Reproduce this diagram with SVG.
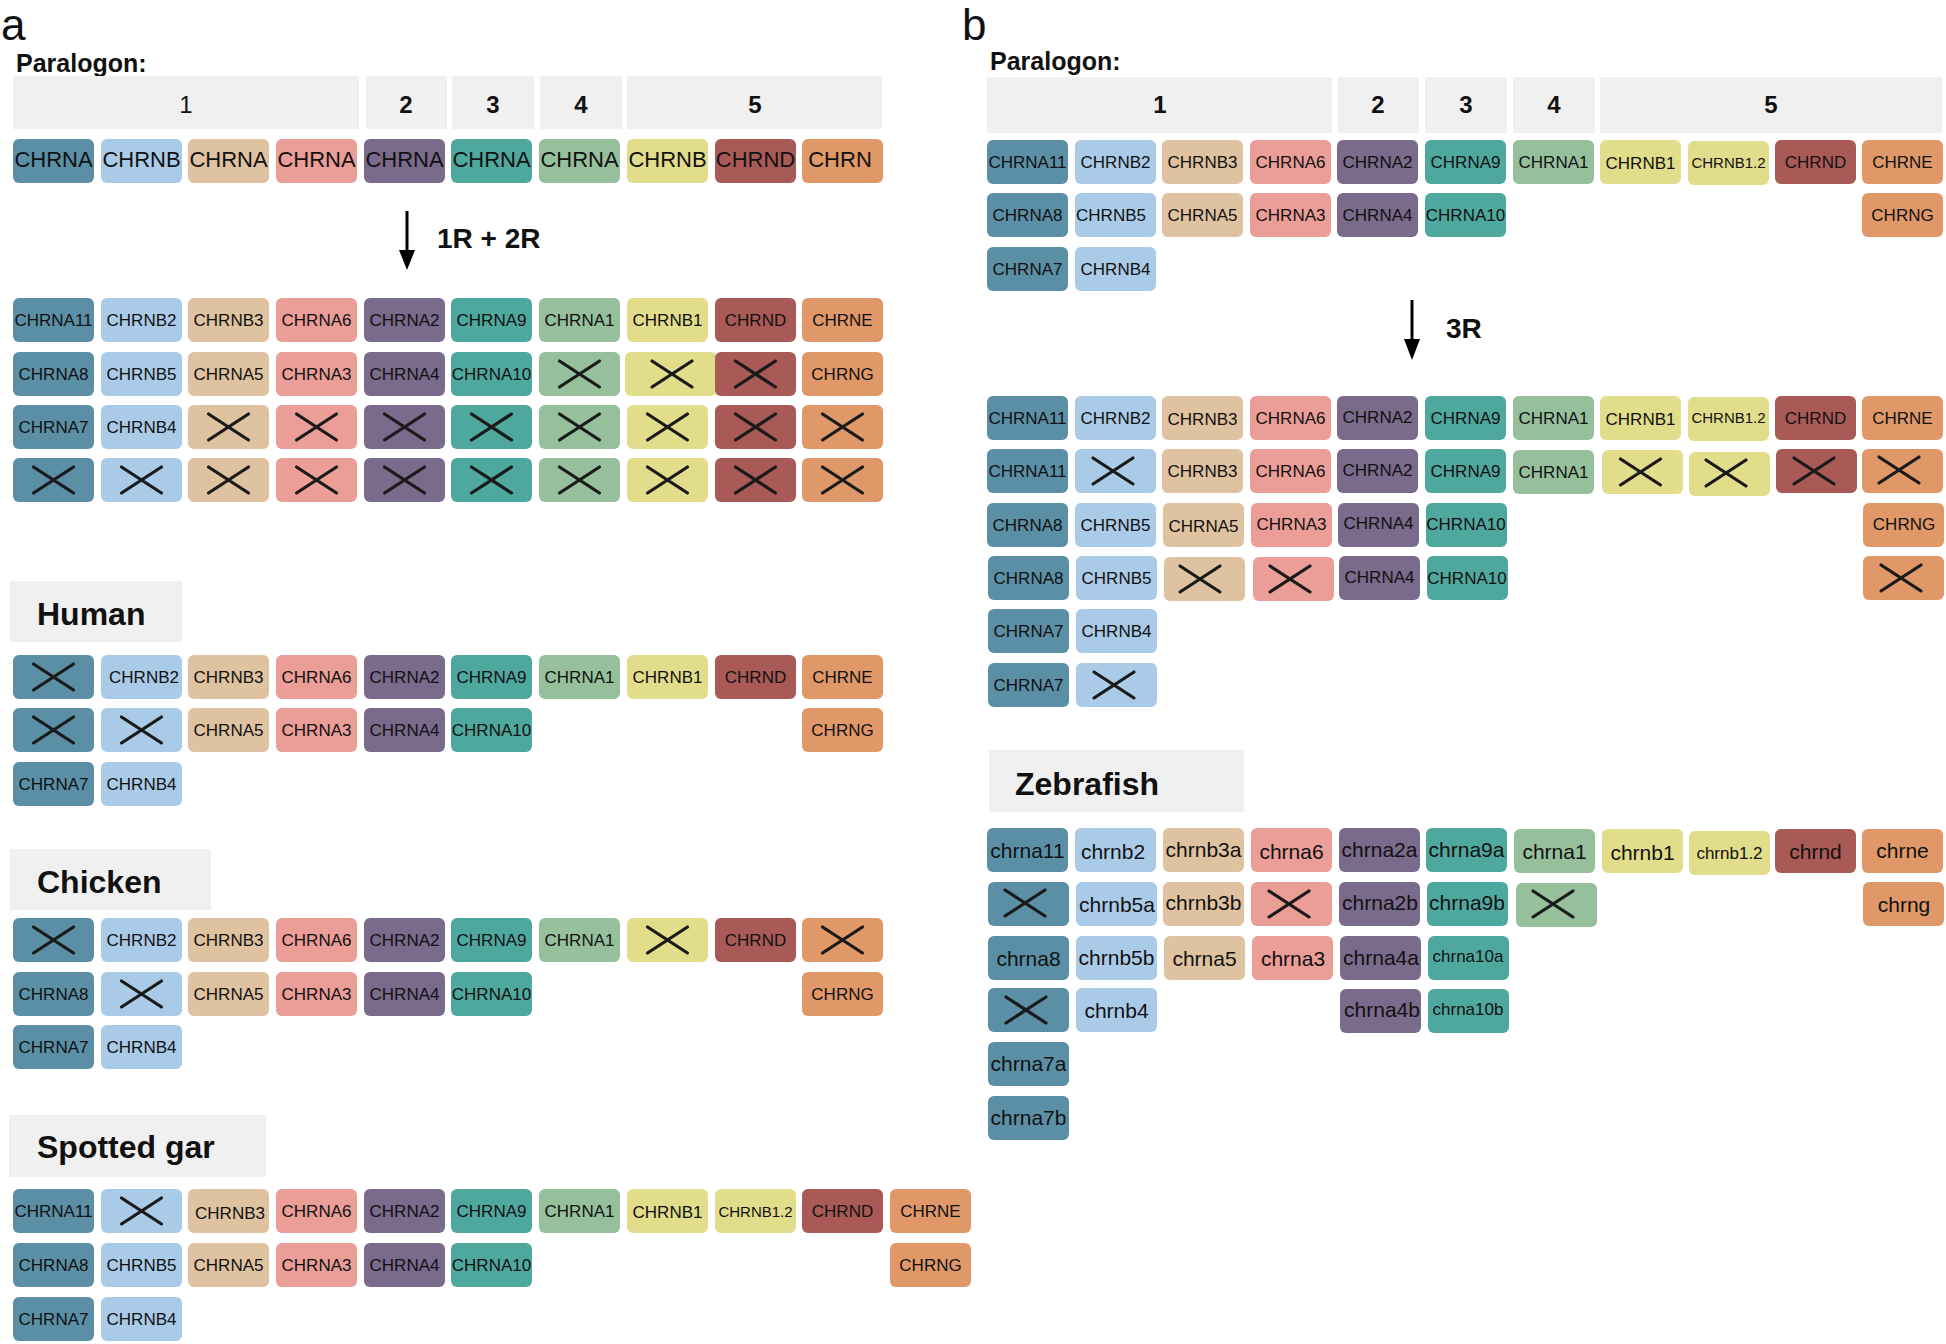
<svg xmlns="http://www.w3.org/2000/svg" xmlns:xlink="http://www.w3.org/1999/xlink" width="1946" height="1344" viewBox="0 0 1946 1344">
<style>
.c1{fill:#5a8fa6}.c2{fill:#aacbe8}.c3{fill:#dfc29f}.c4{fill:#eb9d97}.c5{fill:#7a6a8b}.c6{fill:#4fa89e}.c7{fill:#96c09c}.c8{fill:#e2dd8a}.c9{fill:#a95a56}.c10{fill:#e09869}
.hb{fill:#f0f0f0}
text{font-family:"Liberation Sans",Arial,Helvetica,sans-serif;fill:#111}
.L{font-size:17px;text-anchor:middle}
.S{font-size:15px;text-anchor:middle}
.T{font-size:22px;text-anchor:middle}
.Z{font-size:21px;text-anchor:middle}
.ZS{font-size:17px;text-anchor:middle}
.H{font-size:24px;text-anchor:middle}
.HB{font-size:24px;font-weight:bold;text-anchor:middle}
.P{font-size:25px;font-weight:bold}
.SP{font-size:32px;font-weight:bold}
.R{font-size:28px;font-weight:bold}
.PL{font-size:44px}
.x{fill:none;stroke:#1a1a1a;stroke-width:3.2;stroke-linecap:round}
.ar{stroke:#000;stroke-width:3;fill:none}
</style>
<defs>
<path id="X" class="x" d="M-20,-13 L20,13 M-20,13 L20,-13"/>
</defs>
<rect width="1946" height="1344" fill="#fff"/>

<!-- Panel a labels -->
<text class="PL" x="1" y="40">a</text>
<text class="P" x="16" y="72">Paralogon:</text>
<g id="a-headers">
<rect class="hb" x="13" y="76" width="346" height="53"/><text class="H" x="186" y="113">1</text>
<rect class="hb" x="366" y="76" width="81" height="53"/><text class="HB" x="406" y="113">2</text>
<rect class="hb" x="452" y="76" width="82" height="53"/><text class="HB" x="493" y="113">3</text>
<rect class="hb" x="540" y="76" width="82" height="53"/><text class="HB" x="581" y="113">4</text>
<rect class="hb" x="627" y="76" width="255" height="53"/><text class="HB" x="755" y="113">5</text>
</g>

<!-- ancestral row -->
<g id="a0c1"><rect class="c1" x="13" y="139" width="81" height="44" rx="6"/><text class="T" x="53.5" y="167">CHRNA</text></g>
<g id="a0c2"><rect class="c2" x="101" y="139" width="81" height="44" rx="6"/><text class="T" x="141.5" y="167">CHRNB</text></g>
<g id="a0c3"><rect class="c3" x="188" y="139" width="81" height="44" rx="6"/><text class="T" x="228.5" y="167">CHRNA</text></g>
<g id="a0c4"><rect class="c4" x="276" y="139" width="81" height="44" rx="6"/><text class="T" x="316.5" y="167">CHRNA</text></g>
<g id="a0c5"><rect class="c5" x="364" y="139" width="81" height="44" rx="6"/><text class="T" x="404.5" y="167">CHRNA</text></g>
<g id="a0c6"><rect class="c6" x="451" y="139" width="81" height="44" rx="6"/><text class="T" x="491.5" y="167">CHRNA</text></g>
<g id="a0c7"><rect class="c7" x="539" y="139" width="81" height="44" rx="6"/><text class="T" x="579.5" y="167">CHRNA</text></g>
<g id="a0c8"><rect class="c8" x="627" y="139" width="81" height="44" rx="6"/><text class="T" x="667.5" y="167">CHRNB</text></g>
<g id="a0c9"><rect class="c9" x="715" y="139" width="81" height="44" rx="6"/><text class="T" x="755.5" y="167">CHRND</text></g>
<g id="a0c10"><rect class="c10" x="802" y="139" width="81" height="44" rx="6"/><text class="T" x="840" y="167">CHRN</text></g>

<g id="connectors">
<line class="ar" x1="407" y1="211" x2="407" y2="254"/>
<polygon points="399,250 415,250 407,270" fill="#000"/>
<line class="ar" x1="1412" y1="300" x2="1412" y2="343"/>
<polygon points="1404,339 1420,339 1412,360" fill="#000"/>
</g>
<text class="R" x="437" y="248">1R + 2R</text>
<text class="R" x="1446" y="338">3R</text>

<!-- 1R+2R rows -->
<g id="a1c1"><rect class="c1" x="13" y="298" width="81" height="44" rx="6"/><text class="L" x="53.5" y="326">CHRNA11</text></g>
<g id="a1c2"><rect class="c2" x="101" y="298" width="81" height="44" rx="6"/><text class="L" x="141.5" y="326">CHRNB2</text></g>
<g id="a1c3"><rect class="c3" x="188" y="298" width="81" height="44" rx="6"/><text class="L" x="228.5" y="326">CHRNB3</text></g>
<g id="a1c4"><rect class="c4" x="276" y="298" width="81" height="44" rx="6"/><text class="L" x="316.5" y="326">CHRNA6</text></g>
<g id="a1c5"><rect class="c5" x="364" y="298" width="81" height="44" rx="6"/><text class="L" x="404.5" y="326">CHRNA2</text></g>
<g id="a1c6"><rect class="c6" x="451" y="298" width="81" height="44" rx="6"/><text class="L" x="491.5" y="326">CHRNA9</text></g>
<g id="a1c7"><rect class="c7" x="539" y="298" width="81" height="44" rx="6"/><text class="L" x="579.5" y="326">CHRNA1</text></g>
<g id="a1c8"><rect class="c8" x="627" y="298" width="81" height="44" rx="6"/><text class="L" x="667.5" y="326">CHRNB1</text></g>
<g id="a1c9"><rect class="c9" x="715" y="298" width="81" height="44" rx="6"/><text class="L" x="755.5" y="326">CHRND</text></g>
<g id="a1c10"><rect class="c10" x="802" y="298" width="81" height="44" rx="6"/><text class="L" x="842.5" y="326">CHRNE</text></g>

<g id="a2c1"><rect class="c1" x="13" y="352" width="81" height="44" rx="6"/><text class="L" x="53.5" y="380">CHRNA8</text></g>
<g id="a2c2"><rect class="c2" x="101" y="352" width="81" height="44" rx="6"/><text class="L" x="141.5" y="380">CHRNB5</text></g>
<g id="a2c3"><rect class="c3" x="188" y="352" width="81" height="44" rx="6"/><text class="L" x="228.5" y="380">CHRNA5</text></g>
<g id="a2c4"><rect class="c4" x="276" y="352" width="81" height="44" rx="6"/><text class="L" x="316.5" y="380">CHRNA3</text></g>
<g id="a2c5"><rect class="c5" x="364" y="352" width="81" height="44" rx="6"/><text class="L" x="404.5" y="380">CHRNA4</text></g>
<g id="a2c6"><rect class="c6" x="451" y="352" width="81" height="44" rx="6"/><text class="L" x="491.5" y="380">CHRNA10</text></g>
<g id="a2c7"><rect class="c7" x="539" y="352" width="81" height="44" rx="6"/><use href="#X" x="579.5" y="374"/></g>
<g id="a2c8"><rect class="c8" x="625" y="352" width="92" height="44" rx="6"/><use href="#X" x="672" y="374"/></g>
<g id="a2c9"><rect class="c9" x="715" y="352" width="81" height="44" rx="6"/><use href="#X" x="755.5" y="374"/></g>
<g id="a2c10"><rect class="c10" x="802" y="352" width="81" height="44" rx="6"/><text class="L" x="842.5" y="380">CHRNG</text></g>

<g id="a3c1"><rect class="c1" x="13" y="405" width="81" height="44" rx="6"/><text class="L" x="53.5" y="433">CHRNA7</text></g>
<g id="a3c2"><rect class="c2" x="101" y="405" width="81" height="44" rx="6"/><text class="L" x="141.5" y="433">CHRNB4</text></g>
<g id="a3c3"><rect class="c3" x="188" y="405" width="81" height="44" rx="6"/><use href="#X" x="228.5" y="427"/></g>
<g id="a3c4"><rect class="c4" x="276" y="405" width="81" height="44" rx="6"/><use href="#X" x="316.5" y="427"/></g>
<g id="a3c5"><rect class="c5" x="364" y="405" width="81" height="44" rx="6"/><use href="#X" x="404.5" y="427"/></g>
<g id="a3c6"><rect class="c6" x="451" y="405" width="81" height="44" rx="6"/><use href="#X" x="491.5" y="427"/></g>
<g id="a3c7"><rect class="c7" x="539" y="405" width="81" height="44" rx="6"/><use href="#X" x="579.5" y="427"/></g>
<g id="a3c8"><rect class="c8" x="627" y="405" width="81" height="44" rx="6"/><use href="#X" x="667.5" y="427"/></g>
<g id="a3c9"><rect class="c9" x="715" y="405" width="81" height="44" rx="6"/><use href="#X" x="755.5" y="427"/></g>
<g id="a3c10"><rect class="c10" x="802" y="405" width="81" height="44" rx="6"/><use href="#X" x="842.5" y="427"/></g>

<g id="a4c1"><rect class="c1" x="13" y="458" width="81" height="44" rx="6"/><use href="#X" x="53.5" y="480"/></g>
<g id="a4c2"><rect class="c2" x="101" y="458" width="81" height="44" rx="6"/><use href="#X" x="141.5" y="480"/></g>
<g id="a4c3"><rect class="c3" x="188" y="458" width="81" height="44" rx="6"/><use href="#X" x="228.5" y="480"/></g>
<g id="a4c4"><rect class="c4" x="276" y="458" width="81" height="44" rx="6"/><use href="#X" x="316.5" y="480"/></g>
<g id="a4c5"><rect class="c5" x="364" y="458" width="81" height="44" rx="6"/><use href="#X" x="404.5" y="480"/></g>
<g id="a4c6"><rect class="c6" x="451" y="458" width="81" height="44" rx="6"/><use href="#X" x="491.5" y="480"/></g>
<g id="a4c7"><rect class="c7" x="539" y="458" width="81" height="44" rx="6"/><use href="#X" x="579.5" y="480"/></g>
<g id="a4c8"><rect class="c8" x="627" y="458" width="81" height="44" rx="6"/><use href="#X" x="667.5" y="480"/></g>
<g id="a4c9"><rect class="c9" x="715" y="458" width="81" height="44" rx="6"/><use href="#X" x="755.5" y="480"/></g>
<g id="a4c10"><rect class="c10" x="802" y="458" width="81" height="44" rx="6"/><use href="#X" x="842.5" y="480"/></g>

<!-- Human -->
<g id="human-header"><rect class="hb" x="10" y="581" width="172" height="61"/><text class="SP" x="37" y="625">Human</text></g>
<g id="h1c1"><rect class="c1" x="13" y="655" width="81" height="44" rx="6"/><use href="#X" x="53.5" y="677"/></g>
<g id="h1c2"><rect class="c2" x="101" y="655" width="81" height="44" rx="6"/><text class="L" x="144" y="683">CHRNB2</text></g>
<g id="h1c3"><rect class="c3" x="188" y="655" width="81" height="44" rx="6"/><text class="L" x="228.5" y="683">CHRNB3</text></g>
<g id="h1c4"><rect class="c4" x="276" y="655" width="81" height="44" rx="6"/><text class="L" x="316.5" y="683">CHRNA6</text></g>
<g id="h1c5"><rect class="c5" x="364" y="655" width="81" height="44" rx="6"/><text class="L" x="404.5" y="683">CHRNA2</text></g>
<g id="h1c6"><rect class="c6" x="451" y="655" width="81" height="44" rx="6"/><text class="L" x="491.5" y="683">CHRNA9</text></g>
<g id="h1c7"><rect class="c7" x="539" y="655" width="81" height="44" rx="6"/><text class="L" x="579.5" y="683">CHRNA1</text></g>
<g id="h1c8"><rect class="c8" x="627" y="655" width="81" height="44" rx="6"/><text class="L" x="667.5" y="683">CHRNB1</text></g>
<g id="h1c9"><rect class="c9" x="715" y="655" width="81" height="44" rx="6"/><text class="L" x="755.5" y="683">CHRND</text></g>
<g id="h1c10"><rect class="c10" x="802" y="655" width="81" height="44" rx="6"/><text class="L" x="842.5" y="683">CHRNE</text></g>
<g id="h2c1"><rect class="c1" x="13" y="708" width="81" height="44" rx="6"/><use href="#X" x="53.5" y="730"/></g>
<g id="h2c2"><rect class="c2" x="101" y="708" width="81" height="44" rx="6"/><use href="#X" x="141.5" y="730"/></g>
<g id="h2c3"><rect class="c3" x="188" y="708" width="81" height="44" rx="6"/><text class="L" x="228.5" y="736">CHRNA5</text></g>
<g id="h2c4"><rect class="c4" x="276" y="708" width="81" height="44" rx="6"/><text class="L" x="316.5" y="736">CHRNA3</text></g>
<g id="h2c5"><rect class="c5" x="364" y="708" width="81" height="44" rx="6"/><text class="L" x="404.5" y="736">CHRNA4</text></g>
<g id="h2c6"><rect class="c6" x="451" y="708" width="81" height="44" rx="6"/><text class="L" x="491.5" y="736">CHRNA10</text></g>
<g id="h2c10"><rect class="c10" x="802" y="708" width="81" height="44" rx="6"/><text class="L" x="842.5" y="736">CHRNG</text></g>
<g id="h3c1"><rect class="c1" x="13" y="762" width="81" height="44" rx="6"/><text class="L" x="53.5" y="790">CHRNA7</text></g>
<g id="h3c2"><rect class="c2" x="101" y="762" width="81" height="44" rx="6"/><text class="L" x="141.5" y="790">CHRNB4</text></g>

<!-- Chicken -->
<g id="chicken-header"><rect class="hb" x="10" y="849" width="201" height="61"/><text class="SP" x="37" y="893">Chicken</text></g>
<g id="k1c1"><rect class="c1" x="13" y="918" width="81" height="44" rx="6"/><use href="#X" x="53.5" y="940"/></g>
<g id="k1c2"><rect class="c2" x="101" y="918" width="81" height="44" rx="6"/><text class="L" x="141.5" y="946">CHRNB2</text></g>
<g id="k1c3"><rect class="c3" x="188" y="918" width="81" height="44" rx="6"/><text class="L" x="228.5" y="946">CHRNB3</text></g>
<g id="k1c4"><rect class="c4" x="276" y="918" width="81" height="44" rx="6"/><text class="L" x="316.5" y="946">CHRNA6</text></g>
<g id="k1c5"><rect class="c5" x="364" y="918" width="81" height="44" rx="6"/><text class="L" x="404.5" y="946">CHRNA2</text></g>
<g id="k1c6"><rect class="c6" x="451" y="918" width="81" height="44" rx="6"/><text class="L" x="491.5" y="946">CHRNA9</text></g>
<g id="k1c7"><rect class="c7" x="539" y="918" width="81" height="44" rx="6"/><text class="L" x="579.5" y="946">CHRNA1</text></g>
<g id="k1c8"><rect class="c8" x="627" y="918" width="81" height="44" rx="6"/><use href="#X" x="667.5" y="940"/></g>
<g id="k1c9"><rect class="c9" x="715" y="918" width="81" height="44" rx="6"/><text class="L" x="755.5" y="946">CHRND</text></g>
<g id="k1c10"><rect class="c10" x="802" y="918" width="81" height="44" rx="6"/><use href="#X" x="842.5" y="940"/></g>
<g id="k2c1"><rect class="c1" x="13" y="972" width="81" height="44" rx="6"/><text class="L" x="53.5" y="1000">CHRNA8</text></g>
<g id="k2c2"><rect class="c2" x="101" y="972" width="81" height="44" rx="6"/><use href="#X" x="141.5" y="994"/></g>
<g id="k2c3"><rect class="c3" x="188" y="972" width="81" height="44" rx="6"/><text class="L" x="228.5" y="1000">CHRNA5</text></g>
<g id="k2c4"><rect class="c4" x="276" y="972" width="81" height="44" rx="6"/><text class="L" x="316.5" y="1000">CHRNA3</text></g>
<g id="k2c5"><rect class="c5" x="364" y="972" width="81" height="44" rx="6"/><text class="L" x="404.5" y="1000">CHRNA4</text></g>
<g id="k2c6"><rect class="c6" x="451" y="972" width="81" height="44" rx="6"/><text class="L" x="491.5" y="1000">CHRNA10</text></g>
<g id="k2c10"><rect class="c10" x="802" y="972" width="81" height="44" rx="6"/><text class="L" x="842.5" y="1000">CHRNG</text></g>
<g id="k3c1"><rect class="c1" x="13" y="1025" width="81" height="44" rx="6"/><text class="L" x="53.5" y="1053">CHRNA7</text></g>
<g id="k3c2"><rect class="c2" x="101" y="1025" width="81" height="44" rx="6"/><text class="L" x="141.5" y="1053">CHRNB4</text></g>

<!-- Spotted gar -->
<g id="gar-header"><rect class="hb" x="9" y="1115" width="257" height="62"/><text class="SP" x="37" y="1158">Spotted gar</text></g>
<g id="g1c1"><rect class="c1" x="13" y="1189" width="81" height="44" rx="6"/><text class="L" x="53.5" y="1217">CHRNA11</text></g>
<g id="g1c2"><rect class="c2" x="101" y="1189" width="81" height="44" rx="6"/><use href="#X" x="141.5" y="1211"/></g>
<g id="g1c3"><rect class="c3" x="188" y="1189" width="81" height="44" rx="6"/><text class="L" x="230" y="1219">CHRNB3</text></g>
<g id="g1c4"><rect class="c4" x="276" y="1189" width="81" height="44" rx="6"/><text class="L" x="316.5" y="1217">CHRNA6</text></g>
<g id="g1c5"><rect class="c5" x="364" y="1189" width="81" height="44" rx="6"/><text class="L" x="404.5" y="1217">CHRNA2</text></g>
<g id="g1c6"><rect class="c6" x="451" y="1189" width="81" height="44" rx="6"/><text class="L" x="491.5" y="1217">CHRNA9</text></g>
<g id="g1c7"><rect class="c7" x="539" y="1189" width="81" height="44" rx="6"/><text class="L" x="579.5" y="1217">CHRNA1</text></g>
<g id="g1c8"><rect class="c8" x="627" y="1189" width="81" height="44" rx="6"/><text class="L" x="667.5" y="1218">CHRNB1</text></g>
<g id="g1c9"><rect class="c8" x="715" y="1189" width="81" height="44" rx="6"/><text class="S" x="755.5" y="1217">CHRNB1.2</text></g>
<g id="g1c10"><rect class="c9" x="802" y="1189" width="81" height="44" rx="6"/><text class="L" x="842.5" y="1217">CHRND</text></g>
<g id="g1c11"><rect class="c10" x="890" y="1189" width="81" height="44" rx="6"/><text class="L" x="930.5" y="1217">CHRNE</text></g>
<g id="g2c1"><rect class="c1" x="13" y="1243" width="81" height="44" rx="6"/><text class="L" x="53.5" y="1271">CHRNA8</text></g>
<g id="g2c2"><rect class="c2" x="101" y="1243" width="81" height="44" rx="6"/><text class="L" x="141.5" y="1271">CHRNB5</text></g>
<g id="g2c3"><rect class="c3" x="188" y="1243" width="81" height="44" rx="6"/><text class="L" x="228.5" y="1271">CHRNA5</text></g>
<g id="g2c4"><rect class="c4" x="276" y="1243" width="81" height="44" rx="6"/><text class="L" x="316.5" y="1271">CHRNA3</text></g>
<g id="g2c5"><rect class="c5" x="364" y="1243" width="81" height="44" rx="6"/><text class="L" x="404.5" y="1271">CHRNA4</text></g>
<g id="g2c6"><rect class="c6" x="451" y="1243" width="81" height="44" rx="6"/><text class="L" x="491.5" y="1271">CHRNA10</text></g>
<g id="g2c11"><rect class="c10" x="890" y="1243" width="81" height="44" rx="6"/><text class="L" x="930.5" y="1271">CHRNG</text></g>
<g id="g3c1"><rect class="c1" x="13" y="1297" width="81" height="44" rx="6"/><text class="L" x="53.5" y="1325">CHRNA7</text></g>
<g id="g3c2"><rect class="c2" x="101" y="1297" width="81" height="44" rx="6"/><text class="L" x="141.5" y="1325">CHRNB4</text></g>

<!-- Panel b -->
<text class="PL" x="962" y="40">b</text>
<text class="P" x="990" y="70">Paralogon:</text>
<g id="b-headers">
<rect class="hb" x="987" y="77" width="345" height="56"/><text class="HB" x="1160" y="113">1</text>
<rect class="hb" x="1338" y="77" width="81" height="56"/><text class="HB" x="1378" y="113">2</text>
<rect class="hb" x="1425" y="77" width="82" height="56"/><text class="HB" x="1466" y="113">3</text>
<rect class="hb" x="1513" y="77" width="82" height="56"/><text class="HB" x="1554" y="113">4</text>
<rect class="hb" x="1600" y="77" width="342" height="56"/><text class="HB" x="1771" y="113">5</text>
</g>

<g id="b0r1c1"><rect class="c1" x="987" y="140" width="81" height="44" rx="6"/><text class="L" x="1027.5" y="168">CHRNA11</text></g>
<g id="b0r1c2"><rect class="c2" x="1075" y="140" width="81" height="44" rx="6"/><text class="L" x="1115.5" y="168">CHRNB2</text></g>
<g id="b0r1c3"><rect class="c3" x="1162" y="140" width="81" height="44" rx="6"/><text class="L" x="1202.5" y="168">CHRNB3</text></g>
<g id="b0r1c4"><rect class="c4" x="1250" y="140" width="81" height="44" rx="6"/><text class="L" x="1290.5" y="168">CHRNA6</text></g>
<g id="b0r1c5"><rect class="c5" x="1337" y="140" width="81" height="44" rx="6"/><text class="L" x="1377.5" y="168">CHRNA2</text></g>
<g id="b0r1c6"><rect class="c6" x="1425" y="140" width="81" height="44" rx="6"/><text class="L" x="1465.5" y="168">CHRNA9</text></g>
<g id="b0r1c7"><rect class="c7" x="1513" y="140" width="81" height="44" rx="6"/><text class="L" x="1553.5" y="168">CHRNA1</text></g>
<g id="b0r1c8"><rect class="c8" x="1600" y="140" width="81" height="44" rx="6"/><text class="L" x="1640.5" y="169">CHRNB1</text></g>
<g id="b0r1c9"><rect class="c8" x="1688" y="141" width="81" height="44" rx="6"/><text class="S" x="1728.5" y="168">CHRNB1.2</text></g>
<g id="b0r1c10"><rect class="c9" x="1775" y="140" width="81" height="44" rx="6"/><text class="L" x="1815.5" y="168">CHRND</text></g>
<g id="b0r1c11"><rect class="c10" x="1862" y="140" width="81" height="44" rx="6"/><text class="L" x="1902.5" y="168">CHRNE</text></g>
<g id="b0r2c1"><rect class="c1" x="987" y="193" width="81" height="44" rx="6"/><text class="L" x="1027.5" y="221">CHRNA8</text></g>
<g id="b0r2c2"><rect class="c2" x="1075" y="193" width="81" height="44" rx="6"/><text class="L" x="1111" y="221">CHRNB5</text></g>
<g id="b0r2c3"><rect class="c3" x="1162" y="193" width="81" height="44" rx="6"/><text class="L" x="1202.5" y="221">CHRNA5</text></g>
<g id="b0r2c4"><rect class="c4" x="1250" y="193" width="81" height="44" rx="6"/><text class="L" x="1290.5" y="221">CHRNA3</text></g>
<g id="b0r2c5"><rect class="c5" x="1337" y="193" width="81" height="44" rx="6"/><text class="L" x="1377.5" y="221">CHRNA4</text></g>
<g id="b0r2c6"><rect class="c6" x="1425" y="193" width="81" height="44" rx="6"/><text class="L" x="1465.5" y="221">CHRNA10</text></g>
<g id="b0r2c11"><rect class="c10" x="1862" y="193" width="81" height="44" rx="6"/><text class="L" x="1902.5" y="221">CHRNG</text></g>
<g id="b0r3c1"><rect class="c1" x="987" y="247" width="81" height="44" rx="6"/><text class="L" x="1027.5" y="275">CHRNA7</text></g>
<g id="b0r3c2"><rect class="c2" x="1075" y="247" width="81" height="44" rx="6"/><text class="L" x="1115.5" y="275">CHRNB4</text></g>

<!-- 3R rows -->
<g id="b1c1"><rect class="c1" x="987" y="396" width="81" height="44" rx="6"/><text class="L" x="1027.5" y="424">CHRNA11</text></g>
<g id="b1c2"><rect class="c2" x="1075" y="396" width="81" height="44" rx="6"/><text class="L" x="1115.5" y="424">CHRNB2</text></g>
<g id="b1c3"><rect class="c3" x="1162" y="396" width="81" height="44" rx="6"/><text class="L" x="1202.5" y="425">CHRNB3</text></g>
<g id="b1c4"><rect class="c4" x="1250" y="396" width="81" height="44" rx="6"/><text class="L" x="1290.5" y="424">CHRNA6</text></g>
<g id="b1c5"><rect class="c5" x="1337" y="396" width="81" height="44" rx="6"/><text class="L" x="1377.5" y="423">CHRNA2</text></g>
<g id="b1c6"><rect class="c6" x="1425" y="396" width="81" height="44" rx="6"/><text class="L" x="1465.5" y="424">CHRNA9</text></g>
<g id="b1c7"><rect class="c7" x="1513" y="396" width="81" height="44" rx="6"/><text class="L" x="1553.5" y="424">CHRNA1</text></g>
<g id="b1c8"><rect class="c8" x="1600" y="396" width="81" height="44" rx="6"/><text class="L" x="1640.5" y="425">CHRNB1</text></g>
<g id="b1c9"><rect class="c8" x="1688" y="397" width="81" height="44" rx="6"/><text class="S" x="1728.5" y="423">CHRNB1.2</text></g>
<g id="b1c10"><rect class="c9" x="1775" y="396" width="81" height="44" rx="6"/><text class="L" x="1815.5" y="424">CHRND</text></g>
<g id="b1c11"><rect class="c10" x="1862" y="396" width="81" height="44" rx="6"/><text class="L" x="1902.5" y="424">CHRNE</text></g>

<g id="b2c1"><rect class="c1" x="987" y="449" width="81" height="44" rx="6"/><text class="L" x="1027.5" y="477">CHRNA11</text></g>
<g id="b2c2"><rect class="c2" x="1075" y="449" width="81" height="44" rx="6"/><use href="#X" x="1113" y="471"/></g>
<g id="b2c3"><rect class="c3" x="1162" y="449" width="81" height="44" rx="6"/><text class="L" x="1202.5" y="477">CHRNB3</text></g>
<g id="b2c4"><rect class="c4" x="1250" y="449" width="81" height="44" rx="6"/><text class="L" x="1290.5" y="477">CHRNA6</text></g>
<g id="b2c5"><rect class="c5" x="1337" y="449" width="81" height="44" rx="6"/><text class="L" x="1377.5" y="476">CHRNA2</text></g>
<g id="b2c6"><rect class="c6" x="1425" y="449" width="81" height="44" rx="6"/><text class="L" x="1465.5" y="477">CHRNA9</text></g>
<g id="b2c7"><rect class="c7" x="1513" y="450" width="81" height="44" rx="6"/><text class="L" x="1553.5" y="478">CHRNA1</text></g>
<g id="b2c8"><rect class="c8" x="1602" y="450" width="81" height="44" rx="6"/><use href="#X" x="1640.5" y="472"/></g>
<g id="b2c9"><rect class="c8" x="1689" y="452" width="81" height="44" rx="6"/><use href="#X" x="1726" y="473"/></g>
<g id="b2c10"><rect class="c9" x="1776" y="449" width="81" height="44" rx="6"/><use href="#X" x="1814" y="471"/></g>
<g id="b2c11"><rect class="c10" x="1862" y="449" width="81" height="44" rx="6"/><use href="#X" x="1899" y="470"/></g>

<g id="b3c1"><rect class="c1" x="987" y="503" width="81" height="44" rx="6"/><text class="L" x="1027.5" y="531">CHRNA8</text></g>
<g id="b3c2"><rect class="c2" x="1075" y="503" width="81" height="44" rx="6"/><text class="L" x="1115.5" y="531">CHRNB5</text></g>
<g id="b3c3"><rect class="c3" x="1163" y="503" width="81" height="44" rx="6"/><text class="L" x="1203.5" y="532">CHRNA5</text></g>
<g id="b3c4"><rect class="c4" x="1251" y="503" width="81" height="44" rx="6"/><text class="L" x="1291.5" y="530">CHRNA3</text></g>
<g id="b3c5"><rect class="c5" x="1338" y="503" width="81" height="44" rx="6"/><text class="L" x="1378.5" y="529">CHRNA4</text></g>
<g id="b3c6"><rect class="c6" x="1426" y="503" width="81" height="44" rx="6"/><text class="L" x="1466" y="530">CHRNA10</text></g>
<g id="b3c11"><rect class="c10" x="1863" y="503" width="81" height="44" rx="6"/><text class="L" x="1904" y="530">CHRNG</text></g>

<g id="b4c1"><rect class="c1" x="988" y="556" width="81" height="44" rx="6"/><text class="L" x="1028.5" y="584">CHRNA8</text></g>
<g id="b4c2"><rect class="c2" x="1076" y="556" width="81" height="44" rx="6"/><text class="L" x="1116.5" y="584">CHRNB5</text></g>
<g id="b4c3"><rect class="c3" x="1164" y="557" width="81" height="44" rx="6"/><use href="#X" x="1200" y="579"/></g>
<g id="b4c4"><rect class="c4" x="1253" y="557" width="81" height="44" rx="6"/><use href="#X" x="1290" y="579"/></g>
<g id="b4c5"><rect class="c5" x="1339" y="556" width="81" height="44" rx="6"/><text class="L" x="1379.5" y="583">CHRNA4</text></g>
<g id="b4c6"><rect class="c6" x="1427" y="556" width="81" height="44" rx="6"/><text class="L" x="1467" y="584">CHRNA10</text></g>
<g id="b4c11"><rect class="c10" x="1863" y="556" width="81" height="44" rx="6"/><use href="#X" x="1901" y="578"/></g>

<g id="b5c1"><rect class="c1" x="988" y="609" width="81" height="44" rx="6"/><text class="L" x="1028.5" y="637">CHRNA7</text></g>
<g id="b5c2"><rect class="c2" x="1076" y="609" width="81" height="44" rx="6"/><text class="L" x="1116.5" y="637">CHRNB4</text></g>
<g id="b6c1"><rect class="c1" x="988" y="663" width="81" height="44" rx="6"/><text class="L" x="1028.5" y="691">CHRNA7</text></g>
<g id="b6c2"><rect class="c2" x="1076" y="663" width="81" height="44" rx="6"/><use href="#X" x="1114" y="685"/></g>

<!-- Zebrafish -->
<g id="zebrafish-header"><rect class="hb" x="989" y="750" width="255" height="62"/><text class="SP" x="1015" y="795">Zebrafish</text></g>
<g id="z1c1"><rect class="c1" x="987" y="828" width="81" height="44" rx="6"/><text class="Z" x="1027.5" y="858">chrna11</text></g>
<g id="z1c2"><rect class="c2" x="1075" y="828" width="81" height="44" rx="6"/><text class="Z" x="1113" y="859">chrnb2</text></g>
<g id="z1c3"><rect class="c3" x="1163" y="828" width="81" height="44" rx="6"/><text class="Z" x="1203.5" y="857">chrnb3a</text></g>
<g id="z1c4"><rect class="c4" x="1251" y="828" width="81" height="44" rx="6"/><text class="Z" x="1291.5" y="859">chrna6</text></g>
<g id="z1c5"><rect class="c5" x="1339" y="828" width="81" height="44" rx="6"/><text class="Z" x="1379.5" y="857">chrna2a</text></g>
<g id="z1c6"><rect class="c6" x="1426" y="828" width="81" height="44" rx="6"/><text class="Z" x="1466.5" y="857">chrna9a</text></g>
<g id="z1c7"><rect class="c7" x="1514" y="829" width="81" height="44" rx="6"/><text class="Z" x="1554.5" y="859">chrna1</text></g>
<g id="z1c8"><rect class="c8" x="1602" y="829" width="81" height="44" rx="6"/><text class="Z" x="1642.5" y="860">chrnb1</text></g>
<g id="z1c9"><rect class="c8" x="1689" y="831" width="81" height="44" rx="6"/><text class="ZS" x="1729.5" y="859">chrnb1.2</text></g>
<g id="z1c10"><rect class="c9" x="1775" y="829" width="81" height="44" rx="6"/><text class="Z" x="1815.5" y="859">chrnd</text></g>
<g id="z1c11"><rect class="c10" x="1862" y="829" width="81" height="44" rx="6"/><text class="Z" x="1902.5" y="858">chrne</text></g>

<g id="z2c1"><rect class="c1" x="988" y="882" width="81" height="44" rx="6"/><use href="#X" x="1025" y="903"/></g>
<g id="z2c2"><rect class="c2" x="1076" y="882" width="81" height="44" rx="6"/><text class="Z" x="1117" y="912">chrnb5a</text></g>
<g id="z2c3"><rect class="c3" x="1163" y="882" width="81" height="44" rx="6"/><text class="Z" x="1203.5" y="910">chrnb3b</text></g>
<g id="z2c4"><rect class="c4" x="1251" y="882" width="81" height="44" rx="6"/><use href="#X" x="1289" y="904"/></g>
<g id="z2c5"><rect class="c5" x="1339" y="882" width="81" height="44" rx="6"/><text class="Z" x="1380" y="910">chrna2b</text></g>
<g id="z2c6"><rect class="c6" x="1427" y="882" width="81" height="44" rx="6"/><text class="Z" x="1467" y="910">chrna9b</text></g>
<g id="z2c7"><rect class="c7" x="1516" y="883" width="81" height="44" rx="6"/><use href="#X" x="1553" y="904"/></g>
<g id="z2c11"><rect class="c10" x="1863" y="882" width="81" height="44" rx="6"/><text class="Z" x="1904" y="912">chrng</text></g>

<g id="z3c1"><rect class="c1" x="988" y="936" width="81" height="44" rx="6"/><text class="Z" x="1028.5" y="966">chrna8</text></g>
<g id="z3c2"><rect class="c2" x="1076" y="936" width="81" height="44" rx="6"/><text class="Z" x="1116.5" y="965">chrnb5b</text></g>
<g id="z3c3"><rect class="c3" x="1164" y="936" width="81" height="44" rx="6"/><text class="Z" x="1204.5" y="966">chrna5</text></g>
<g id="z3c4"><rect class="c4" x="1252" y="936" width="81" height="44" rx="6"/><text class="Z" x="1293" y="966">chrna3</text></g>
<g id="z3c5"><rect class="c5" x="1340" y="936" width="81" height="44" rx="6"/><text class="Z" x="1381" y="965">chrna4a</text></g>
<g id="z3c6"><rect class="c6" x="1428" y="936" width="81" height="44" rx="6"/><text class="ZS" x="1468" y="962">chrna10a</text></g>

<g id="z4c1"><rect class="c1" x="988" y="988" width="81" height="44" rx="6"/><use href="#X" x="1026" y="1010"/></g>
<g id="z4c2"><rect class="c2" x="1076" y="988" width="81" height="44" rx="6"/><text class="Z" x="1116.5" y="1018">chrnb4</text></g>
<g id="z4c5"><rect class="c5" x="1340" y="989" width="81" height="44" rx="6"/><text class="Z" x="1382" y="1017">chrna4b</text></g>
<g id="z4c6"><rect class="c6" x="1428" y="989" width="81" height="44" rx="6"/><text class="ZS" x="1468" y="1015">chrna10b</text></g>

<g id="z5c1"><rect class="c1" x="988" y="1042" width="81" height="44" rx="6"/><text class="Z" x="1028.5" y="1071">chrna7a</text></g>
<g id="z6c1"><rect class="c1" x="988" y="1096" width="81" height="44" rx="6"/><text class="Z" x="1028.5" y="1125">chrna7b</text></g>
</svg>
